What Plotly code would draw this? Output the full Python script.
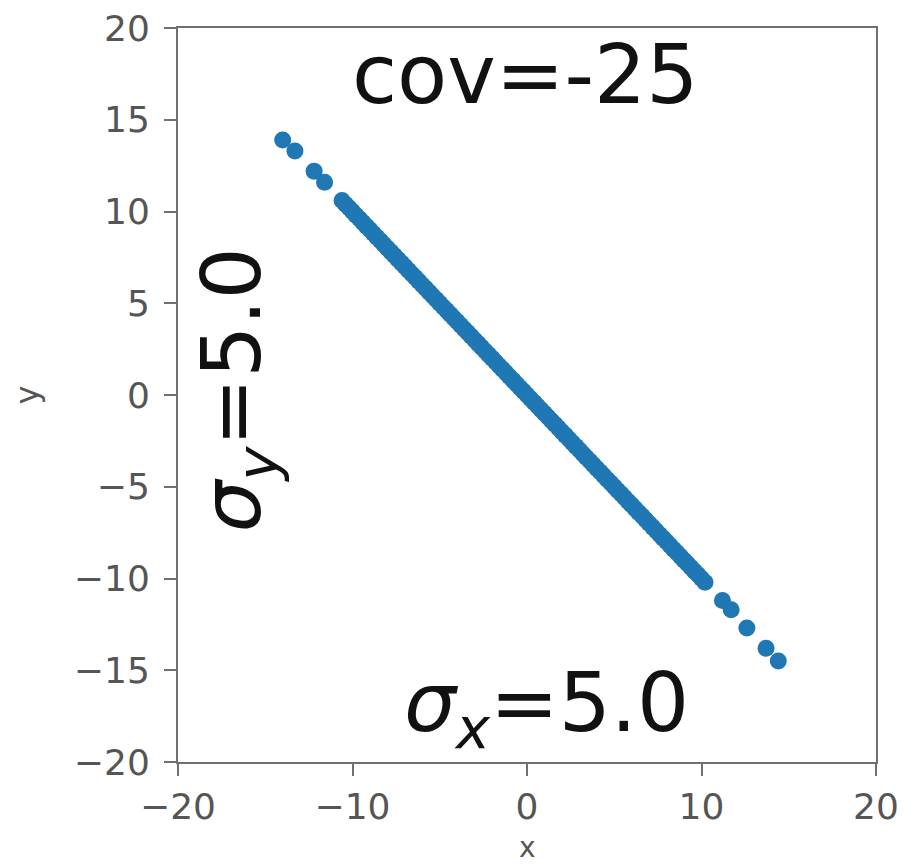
import plotly.graph_objects as go

# Sample points (they lie on the line y = -x)
x_vals = [-14.0, -13.3, -12.2, -11.6,
          -10.6, -10.4, -10.2, -10.0, -9.8, -9.6, -9.4, -9.2, -9.0, -8.8,
          -8.6, -8.4, -8.2, -8.0, -7.8, -7.6, -7.4, -7.2, -7.0, -6.8,
          -6.6, -6.4, -6.2, -6.0, -5.8, -5.6, -5.4, -5.2, -5.0, -4.8,
          -4.6, -4.4, -4.2, -4.0, -3.8, -3.6, -3.4, -3.2, -3.0, -2.8,
          -2.6, -2.4, -2.2, -2.0, -1.8, -1.6, -1.4, -1.2, -1.0, -0.8,
          -0.6, -0.4, -0.2, 0.0, 0.2, 0.4, 0.6, 0.8, 1.0, 1.2,
          1.4, 1.6, 1.8, 2.0, 2.2, 2.4, 2.6, 2.8, 3.0, 3.2,
          3.4, 3.6, 3.8, 4.0, 4.2, 4.4, 4.6, 4.8, 5.0, 5.2,
          5.4, 5.6, 5.8, 6.0, 6.2, 6.4, 6.6, 6.8, 7.0, 7.2,
          7.4, 7.6, 7.8, 8.0, 8.2, 8.4, 8.6, 8.8, 9.0, 9.2,
          9.4, 9.6, 9.8, 10.0, 10.2,
          11.2, 11.7, 12.6, 13.7, 14.4]
y_vals = [13.9, 13.3, 12.2, 11.6,
          10.6, 10.4, 10.2, 10.0, 9.8, 9.6, 9.4, 9.2, 9.0, 8.8,
          8.6, 8.4, 8.2, 8.0, 7.8, 7.6, 7.4, 7.2, 7.0, 6.8,
          6.6, 6.4, 6.2, 6.0, 5.8, 5.6, 5.4, 5.2, 5.0, 4.8,
          4.6, 4.4, 4.2, 4.0, 3.8, 3.6, 3.4, 3.2, 3.0, 2.8,
          2.6, 2.4, 2.2, 2.0, 1.8, 1.6, 1.4, 1.2, 1.0, 0.8,
          0.6, 0.4, 0.2, 0.0, -0.2, -0.4, -0.6, -0.8, -1.0, -1.2,
          -1.4, -1.6, -1.8, -2.0, -2.2, -2.4, -2.6, -2.8, -3.0, -3.2,
          -3.4, -3.6, -3.8, -4.0, -4.2, -4.4, -4.6, -4.8, -5.0, -5.2,
          -5.4, -5.6, -5.8, -6.0, -6.2, -6.4, -6.6, -6.8, -7.0, -7.2,
          -7.4, -7.6, -7.8, -8.0, -8.2, -8.4, -8.6, -8.8, -9.0, -9.2,
          -9.4, -9.6, -9.8, -10.0, -10.2,
          -11.2, -11.7, -12.7, -13.8, -14.5]

x_ticks = [-20, -10, 0, 10, 20]
y_ticks = [-20, -15, -10, -5, 0, 5, 10, 15, 20]
x_tick_text = ["\u221220", "\u221210", "0", "10", "20"]
y_tick_text = ["\u221220", "\u221215", "\u221210", "\u22125", "0", "5", "10", "15", "20"]

FONT = "DejaVu Sans"
AX_COLOR = "#707070"
TXT_COLOR = "#555555"

fig = go.Figure()
fig.add_trace(go.Scatter(
    x=x_vals, y=y_vals, mode="markers",
    marker=dict(color="#1f77b4", size=17, line=dict(width=0)),
    showlegend=False, hoverinfo="skip",
))

axis_common = dict(
    showgrid=False, zeroline=False, showline=True, mirror=True,
    linecolor=AX_COLOR, linewidth=2, ticks="outside", ticklen=12,
    tickwidth=2, tickcolor=AX_COLOR, automargin=False,
    ticklabeloverflow="allow",
    tickfont=dict(family=FONT, size=36, color=TXT_COLOR),
)

fig.update_xaxes(range=[-20, 20], tickvals=x_ticks, ticktext=x_tick_text,
                 **axis_common)
fig.update_yaxes(range=[-20, 20], tickvals=y_ticks, ticktext=y_tick_text,
                 ticklabelstandoff=7,
                 title=dict(text="y", font=dict(family=FONT, size=32, color=TXT_COLOR), standoff=32),
                 **axis_common)

# x-axis title as an annotation so it stays inside the page
fig.add_annotation(x=0.5, y=0, xref="paper", yref="paper", yanchor="top",
                   yshift=-67, text="x", showarrow=False,
                   font=dict(family=FONT, size=28, color=TXT_COLOR))

fig.add_annotation(x=-0.1, y=17.45, xref="x", yref="y", text="cov=-25", showarrow=False,
                   font=dict(family=FONT, size=82, color="#111111"))
fig.add_annotation(x=1.12, y=-17.1, xref="x", yref="y",
                   text="<i>σ</i><sub><i>x</i></sub>=5.0", showarrow=False,
                   font=dict(family=FONT, size=82, color="#111111"))
fig.add_annotation(x=-16.6, y=0.27, xref="x", yref="y",
                   text="<i>σ</i><sub><i>y</i></sub>=5.0", showarrow=False, textangle=-90,
                   font=dict(family=FONT, size=82, color="#111111"))

fig.update_layout(
    width=907, height=858,
    margin=dict(l=170, r=39, t=20, b=104),
    paper_bgcolor="white", plot_bgcolor="white",
)

fig.write_html("out.html")
